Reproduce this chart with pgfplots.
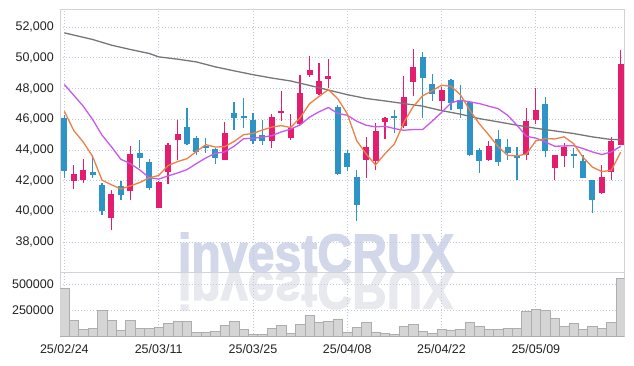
\documentclass[border=0pt]{standalone}
\usepackage{pgfplots}
\usepackage{pgfplotstable}
\pgfplotsset{compat=1.18}
\usepackage{fontspec}
\setmainfont{Liberation Sans}
\newfontfamily\wmfont{Liberation Sans}[BoldFeatures={FakeBold=2.5}]

\definecolor{upc}{HTML}{E31E6E}
\definecolor{dnc}{HTML}{2E94C8}
\definecolor{mafive}{HTML}{EE8044}
\definecolor{maten}{HTML}{C858EE}
\definecolor{malong}{HTML}{767676}
\definecolor{gridc}{HTML}{C4C8DA}
\definecolor{framec}{HTML}{D2D2DA}
\definecolor{wmc}{HTML}{D2D7EA}
\definecolor{wmr}{HTML}{E8E8EF}
\definecolor{volc}{HTML}{D5D5D5}
\definecolor{vole}{HTML}{ADADAD}
\definecolor{labc}{HTML}{222222}

% up candles: index open high low close
\pgfplotstableread{
i o h l c
1 41980 43050 41440 42420
2 42070 43390 41870 42720
5 39570 41420 38760 41150
7 41330 44240 40770 43720
10 40220 41950 40200 41900
11 42570 44480 41760 44300
12 44670 45980 43330 45020
17 43370 45830 43370 45130
22 44590 46370 44150 46130
23 46410 47820 45910 46540
24 44760 46370 44630 45460
25 45700 48870 45650 47720
26 48890 50100 48760 49190
27 47670 49630 47560 48480
28 48630 49950 48040 48800
32 43370 44870 42200 44170
33 43280 45760 42720 45220
34 45850 46150 44740 46060
36 45590 48820 45460 47430
37 48430 50600 47500 49370
40 47190 48110 46590 47890
45 43370 44570 43290 44280
49 43680 46740 43370 45870
50 45930 48000 45720 46590
52 42830 43700 42020 43700
53 43590 44460 42890 44170
57 41180 43000 41110 42240
58 42570 44850 42070 44570
59 44350 50500 44300 49580
}\upcandles

% down candles: index open high low close
\pgfplotstableread{
i o h l c
0 46100 46250 42180 42650
3 42550 43650 42200 42370
4 41700 41850 39790 40000
6 41680 41960 40720 41070
8 43780 44680 42850 43460
9 43220 43440 41420 41530
13 45480 46760 44330 44390
14 44800 44890 43650 43870
15 44250 44800 43830 44150
16 44040 44150 43070 43500
18 46390 47150 45280 46090
19 46240 47350 45460 46060
20 45980 46410 44410 44590
21 45000 45980 44350 44590
29 46800 46950 42400 42440
30 43780 44020 42610 42890
31 42240 42680 39400 40420
35 46240 46630 45130 46060
38 50020 50390 46110 48710
39 48280 48930 47190 47670
41 48540 48600 46590 47060
42 47240 48220 46110 46650
43 47110 47170 43590 43650
44 43980 44150 42500 43280
46 44700 45280 42940 43220
47 44170 44700 43370 43810
48 43700 44200 42070 43480
51 46980 47450 43550 43940
54 43730 44150 42850 43620
55 43260 43700 42180 42180
56 42020 42020 39920 40720
}\downcandles

\begin{document}
\begin{tikzpicture}[x=1pt,y=1pt]
\path[use as bounding box] (0,0) rectangle (634,366);

% watermark and its reflection
\node[anchor=base, inner sep=0pt, text=wmr, xscale=0.9, yscale=-1] at (316,94.3)
  {\fontsize{53.6}{60}\selectfont\wmfont\bfseries investCRUX};
\node[anchor=base, inner sep=0pt, text=wmc, xscale=0.9] at (316,94.3)
  {\fontsize{53.6}{60}\selectfont\wmfont\bfseries investCRUX};

% price panel
\begin{axis}[
  at={(60pt,93.3pt)}, anchor=south west,
  width=564.3pt, height=263.7pt, scale only axis,
  xmin=-0.46, xmax=59.38, ymin=36010, ymax=53175,
  axis line style={draw=framec, line width=0.8pt},
  xtick={0,10,20,30,40,50}, xticklabels={},
  ytick={38000,40000,42000,44000,46000,48000,50000,52000},
  yticklabels={38{,}000,40{,}000,42{,}000,44{,}000,46{,}000,48{,}000,50{,}000,52{,}000},
  scaled y ticks=false, scaled x ticks=false,
  grid=major,
  major grid style={gridc, line width=0.7pt, dash pattern=on 1pt off 2pt},
  major tick length=0pt,
  yticklabel style={font=\fontsize{12.5}{14}\selectfont, text=labc, anchor=east, inner sep=0pt, xshift=-6pt},
]
% wicks
\addplot[draw=none, mark=none, forget plot,
  error bars/.cd, y dir=plus, y explicit, error mark=none,
  error bar style={draw=upc, solid, line width=1.2pt}]
  table[x=i, y=l, y error plus expr=\thisrow{h}-\thisrow{l}] {\upcandles};
\addplot[draw=none, mark=none, forget plot,
  error bars/.cd, y dir=plus, y explicit, error mark=none,
  error bar style={draw=dnc, solid, line width=1.2pt}]
  table[x=i, y=l, y error plus expr=\thisrow{h}-\thisrow{l}] {\downcandles};
% bodies
\addplot[draw=none, mark=none, forget plot,
  error bars/.cd, y dir=plus, y explicit, error mark=none,
  error bar style={draw=upc, solid, line width=6pt}]
  table[x=i, y=o, y error plus expr=\thisrow{c}-\thisrow{o}] {\upcandles};
\addplot[draw=none, mark=none, forget plot,
  error bars/.cd, y dir=plus, y explicit, error mark=none,
  error bar style={draw=dnc, solid, line width=6pt}]
  table[x=i, y=c, y error plus expr=\thisrow{o}-\thisrow{c}] {\downcandles};

% long moving average
\addplot[malong, line width=1.3pt, mark=none] coordinates {
(0,51620) (3,51190) (5,50820) (7,50540) (9,50280) (10,50060) (12,49910) (14,49730)
(16,49410) (18,49150) (20,48900) (22,48680) (24,48490) (26,48200) (28,47900) (30,47600)
(32,47350) (34,47190) (36,47020) (38,46850) (40,46560) (42,46330) (44,46040) (46,45830)
(48,45610) (50,45410) (52,45240) (54,45070) (56,44850) (58,44680) (59,44670)};
% 10-day moving average
\addplot[maten, line width=1.3pt, mark=none] coordinates {
(0,48260) (1,47560) (2,46850) (3,45980) (4,44960) (5,44200) (6,43390) (7,43110)
(8,42700) (9,42200) (10,42100) (11,42310) (12,42500) (13,42720) (14,43110) (15,43480)
(16,43780) (17,43870) (18,44240) (19,44730) (20,44760) (21,44830) (22,44930) (23,45170)
(24,45360) (25,45630) (26,46130) (27,46480) (28,46760) (29,46370) (30,46260) (31,45870)
(32,45610) (33,45500) (34,45540) (35,45390) (36,45280) (37,45330) (38,45330) (39,45870)
(40,46440) (41,47060) (42,47240) (43,47130) (44,47020) (45,46850) (46,46690) (47,46260)
(48,45610) (49,44890) (50,44770) (51,44520) (52,44240) (53,44260) (54,44280) (55,44090)
(56,43870) (57,43700) (58,43870) (59,44240)};
% 5-day moving average
\addplot[mafive, line width=1.3pt, mark=none] coordinates {
(0,46520) (1,45260) (2,44520) (3,43570) (4,42032) (5,41732) (6,41462) (7,41662)
(8,41880) (9,42186) (10,42336) (11,42982) (12,43242) (13,43428) (14,43896) (15,44346)
(16,44190) (17,44212) (18,44552) (19,44990) (20,45074) (21,45292) (22,45492) (23,45582)
(24,45462) (25,46088) (26,47008) (27,47478) (28,47930) (29,47326) (30,46360) (31,44606)
(32,43744) (33,43028) (34,43752) (35,44386) (36,45788) (37,46828) (38,47526) (39,47848)
(40,48214) (41,48140) (42,47596) (43,46584) (44,45706) (45,44984) (46,44216) (47,43648)
(48,43614) (49,43732) (50,44594) (51,44738) (52,44716) (53,44854) (54,44410) (55,43528)
(56,42884) (57,42592) (58,42672) (59,43858)};
\end{axis}

% volume panel
\begin{axis}[
  at={(60pt,29.3pt)}, anchor=south west,
  width=564.3pt, height=64pt, scale only axis,
  xmin=-0.46, xmax=59.38, ymin=0, ymax=607200,
  axis line style={draw=framec, line width=0.8pt},
  xtick={0,10,20,30,40,50},
  xticklabels={25/02/24,25/03/11,25/03/25,25/04/08,25/04/22,25/05/09},
  ytick={250000,500000}, yticklabels={250000,500000},
  scaled y ticks=false, scaled x ticks=false,
  grid=major,
  major grid style={gridc, line width=0.7pt, dash pattern=on 1pt off 2pt},
  major tick length=0pt,
  yticklabel style={font=\fontsize{12.5}{14}\selectfont, text=labc, anchor=east, inner sep=0pt, xshift=-6pt},
  xticklabel style={font=\fontsize{12.5}{14}\selectfont, text=labc, anchor=north, inner sep=0pt, yshift=-8pt},
  ybar, bar width=1,
]
\addplot[fill=volc, draw=vole, line width=0.5pt] coordinates {
(0,460000) (1,155000) (2,70000) (3,79000) (4,250000) (5,155000) (6,60000) (7,155000)
(8,79000) (9,79000) (10,89000) (11,127000) (12,146000) (13,146000) (14,41000) (15,41000)
(16,51000) (17,108000) (18,146000) (19,70000) (20,22000) (21,22000) (22,79000) (23,108000)
(24,32000) (25,117000) (26,203000) (27,136000) (28,146000) (29,170000) (30,45000) (31,89000)
(32,136000) (33,45000) (34,32000) (35,22000) (36,98000) (37,117000) (38,51000) (39,32000)
(40,70000) (41,64000) (42,70000) (43,136000) (44,98000) (45,70000) (46,70000) (47,79000)
(48,79000) (49,241000) (50,260000) (51,250000) (52,174000) (53,98000) (54,127000) (55,70000)
(56,98000) (57,79000) (58,136000) (59,554000)};
\end{axis}
\end{tikzpicture}
\end{document}
